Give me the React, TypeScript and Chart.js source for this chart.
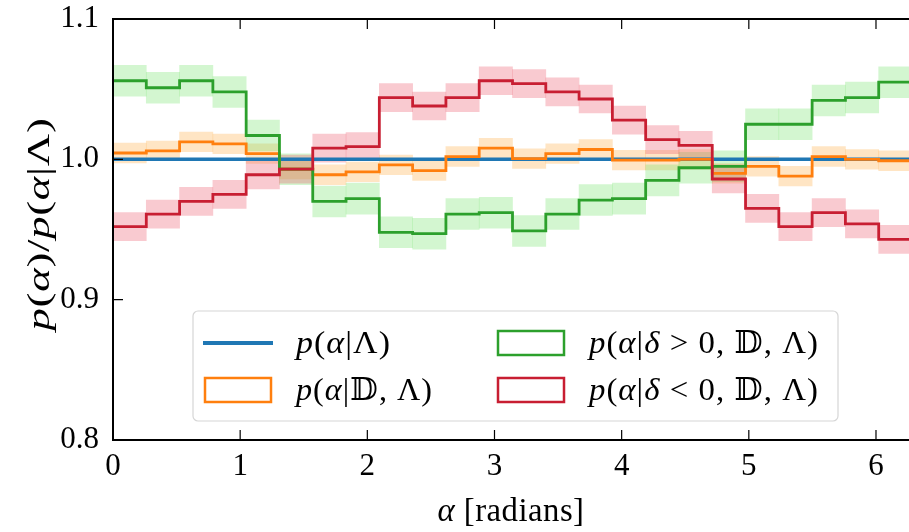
import React, { useEffect, useRef } from "react";
import { Chart, registerables } from "chart.js";

Chart.register(...registerables);

const TWO_PI = 2 * Math.PI;
const NBINS = 24;

// Ratio values per bin (alpha bins over [0, 2π])
const allRatio: number[] = [1.0, 1.0];
const dRatio: number[] = [
  1.0045, 1.006, 1.0125, 1.011, 1.004, 0.993, 0.989, 0.991, 0.996, 0.992, 1.002, 1.008,
  1.0005, 1.004, 1.007, 0.9995, 0.9995, 1.0, 0.99, 0.995, 0.988, 1.002, 1.0, 0.999,
];
const posRatio: number[] = [
  1.056, 1.051, 1.056, 1.048, 1.017, 0.993, 0.97, 0.972, 0.948, 0.947, 0.961, 0.962,
  0.949, 0.961, 0.971, 0.972, 0.985, 0.994, 0.995, 1.025, 1.025, 1.042, 1.044, 1.055,
];
const negRatio: number[] = [
  0.952, 0.961, 0.97, 0.975, 0.989, 0.993, 1.008, 1.009, 1.044, 1.038, 1.044, 1.056,
  1.054, 1.048, 1.043, 1.028, 1.014, 1.01, 0.986, 0.965, 0.952, 0.962, 0.954, 0.943,
];
// half-widths of the shaded uncertainty bands
const dErr = 0.007;
const posErr = 0.011;
const negErr = 0.01;

const xTicks: number[] = [0, 1, 2, 3, 4, 5, 6];
const yTicks: number[] = [0.8, 0.9, 1.0, 1.1];

const legendLabels: string[][][] = [
  [["p", "i"], ["(", "u"], ["α", "i"], ["|Λ)", "u"]],
  [["p", "i"], ["(", "u"], ["α", "i"], ["|", "u"], ["δ", "i"], [" > 0, 𝔻, Λ)", "u"]],
  [["p", "i"], ["(", "u"], ["α", "i"], ["|𝔻, Λ)", "u"]],
  [["p", "i"], ["(", "u"], ["α", "i"], ["|", "u"], ["δ", "i"], [" < 0, 𝔻, Λ)", "u"]],
];
const yTitle: string[][] = [
  ["p", "i"], ["(", "u"], ["α", "i"], [")/", "u"], ["p", "i"], ["(", "u"], ["α", "i"], ["|Λ)", "u"],
];
const xTitle: string[][] = [["α", "i"], [" [radians]", "u"]];

const FAMILY = "'Liberation Serif', 'DejaVu Serif', 'DejaVu Sans', serif";
const BLUE = "#1f77b4";
const ORANGE = "#ff7f0e";
const GREEN = "#2ca02c";
const RED = "#c81e32";

const binW = TWO_PI / NBINS;
const stepData = (vals: number[]) => {
  const pts = vals.map((v, i) => ({ x: i * binW, y: v }));
  pts.push({ x: TWO_PI, y: vals[vals.length - 1] });
  return pts;
};
const bandData = (vals: number[], e: number) =>
  vals.map((v, i) => ({ x: (i + 0.5) * binW, y: [v - e, v + e] }));

function drawMath(
  ctx: CanvasRenderingContext2D,
  segs: string[][],
  x: number,
  y: number,
  size: number,
  align: "left" | "center",
  spacing: number,
  targetWidth?: number
) {
  const fontOf = (s: string) => `${s === "i" ? "italic " : ""}${size}px ${FAMILY}`;
  (ctx as any).letterSpacing = `${spacing}px`;
  let total = 0;
  for (const [t, s] of segs) {
    ctx.font = fontOf(s);
    total += ctx.measureText(t).width;
  }
  const sx = targetWidth ? targetWidth / total : 1;
  ctx.save();
  ctx.translate(x, y);
  ctx.scale(sx, 1);
  let cx = align === "center" ? -total / 2 : 0;
  ctx.textBaseline = "middle";
  ctx.textAlign = "left";
  for (const [t, s] of segs) {
    ctx.font = fontOf(s);
    ctx.fillText(t, cx, 0);
    cx += ctx.measureText(t).width;
  }
  ctx.restore();
  (ctx as any).letterSpacing = "0px";
}

const framePlugin = {
  id: "frame",
  afterDatasetsDraw(chart: any) {
    const { ctx, chartArea: a, scales } = chart;
    ctx.save();
    ctx.strokeStyle = "#000";
    ctx.lineWidth = 1.2;
    const tl = 10;
    ctx.beginPath();
    for (const v of xTicks) {
      const px = scales.x.getPixelForValue(v);
      ctx.moveTo(px, a.bottom);
      ctx.lineTo(px, a.bottom - tl);
      ctx.moveTo(px, a.top);
      ctx.lineTo(px, a.top + tl);
    }
    for (const v of yTicks) {
      const py = scales.y.getPixelForValue(v);
      ctx.moveTo(a.left, py);
      ctx.lineTo(a.left + tl, py);
    }
    ctx.stroke();
    ctx.lineWidth = 2;
    ctx.strokeRect(a.left, a.top, a.right - a.left, a.bottom - a.top);
    ctx.restore();
  },
  afterDraw(chart: any) {
    const { ctx } = chart;
    ctx.save();
    ctx.fillStyle = "#000";
    // axis titles
    drawMath(ctx, xTitle, 511, 512, 34, "center", 0.5, 147);
    ctx.save();
    ctx.translate(41, 224);
    ctx.rotate(-Math.PI / 2);
    drawMath(ctx, yTitle, 0, 0, 32, "center", 0.5, 213);
    ctx.restore();

    // legend
    const bx = 193, by = 311, bw = 645, bh = 110, r = 5;
    ctx.beginPath();
    ctx.moveTo(bx + r, by);
    ctx.arcTo(bx + bw, by, bx + bw, by + bh, r);
    ctx.arcTo(bx + bw, by + bh, bx, by + bh, r);
    ctx.arcTo(bx, by + bh, bx, by, r);
    ctx.arcTo(bx, by, bx + bw, by, r);
    ctx.closePath();
    ctx.fillStyle = "rgba(255,255,255,0.85)";
    ctx.fill();
    ctx.strokeStyle = "#d6d6d6";
    ctx.lineWidth = 1.2;
    ctx.stroke();

    const cols = [205, 498];
    const rows = [343, 390];
    const symbolColors = [BLUE, GREEN, ORANGE, RED];
    const widths = [95, 230, 137, 230];
    for (let k = 0; k < 4; k++) {
      const col = cols[k % 2];
      const row = rows[Math.floor(k / 2)];
      if (k === 0) {
        ctx.strokeStyle = BLUE;
        ctx.lineWidth = 4;
        ctx.beginPath();
        ctx.moveTo(col - 2, row);
        ctx.lineTo(col + 68, row);
        ctx.stroke();
      } else {
        ctx.fillStyle = "#fff";
        ctx.fillRect(col, row - 12, 66, 24);
        ctx.strokeStyle = symbolColors[k];
        ctx.lineWidth = 2.5;
        ctx.strokeRect(col, row - 12, 66, 24);
      }
      ctx.fillStyle = "#000";
      drawMath(ctx, legendLabels[k], col + 91, row + 2, 32, "left", 1, widths[k]);
    }
    ctx.restore();
  },
};

export default function App() {
  const ref = useRef<HTMLCanvasElement | null>(null);
  useEffect(() => {
    const canvas = ref.current;
    if (!canvas) return;
    const lineDs = (label: string, vals: number[], color: string, width: number, order: number) => ({
      type: "line" as const,
      label,
      data: stepData(vals),
      borderColor: color,
      borderWidth: width,
      stepped: "before" as const,
      pointRadius: 0,
      fill: false,
      order,
    });
    const bandDs = (label: string, vals: number[], e: number, color: string, order: number) => ({
      type: "bar" as const,
      label,
      data: bandData(vals, e),
      backgroundColor: color,
      borderWidth: 0,
      grouped: false,
      barPercentage: 1,
      categoryPercentage: 1,
      order,
    });
    const chart = new Chart(canvas, {
      type: "line",
      data: {
        datasets: [
          lineDs("red", negRatio, RED, 2.8, 0),
          lineDs("green", posRatio, GREEN, 2.8, 1),
          lineDs("orange", dRatio, ORANGE, 2.8, 2),
          {
            type: "line" as const,
            label: "all",
            data: [
              { x: 0, y: allRatio[0] },
              { x: TWO_PI, y: allRatio[1] },
            ],
            borderColor: BLUE,
            borderWidth: 3.5,
            pointRadius: 0,
            fill: false,
            order: 3,
          },
          bandDs("redBand", negRatio, negErr, "rgba(235, 90, 110, 0.32)", 10),
          bandDs("greenBand", posRatio, posErr, "rgba(110, 225, 100, 0.3)", 11),
          bandDs("orangeBand", dRatio, dErr, "rgba(255, 170, 60, 0.3)", 12),
        ] as any,
      },
      options: {
        animation: false,
        responsive: false,
        devicePixelRatio: 1,
        layout: { padding: { left: 0, top: 19, right: 4, bottom: 0 } },
        plugins: { legend: { display: false }, tooltip: { enabled: false } },
        scales: {
          x: {
            type: "linear",
            min: 0,
            max: TWO_PI,
            offset: false,
            grid: { display: false, drawTicks: false },
            border: { display: false },
            ticks: {
              padding: 8,
              color: "#000",
              font: { family: FAMILY, size: 31 },
              maxRotation: 0,
              callback: (v: any) => String(v),
            },
            afterBuildTicks: (s: any) => {
              s.ticks = xTicks.map((v) => ({ value: v }));
            },
            afterFit: (s: any) => {
              s.height = 92;
              s.paddingLeft = 0;
              s.paddingRight = 0;
            },
          },
          y: {
            type: "linear",
            min: 0.8,
            max: 1.1,
            grid: { display: false, drawTicks: false },
            border: { display: false },
            ticks: {
              padding: 14,
              color: "#000",
              font: { family: FAMILY, size: 31 },
              callback: (v: any) => Number(v).toFixed(1),
            },
            afterBuildTicks: (s: any) => {
              s.ticks = yTicks.map((v) => ({ value: v }));
            },
            afterFit: (s: any) => {
              s.width = 113;
              s.paddingTop = 0;
              s.paddingBottom = 0;
            },
          },
        },
      } as any,
      plugins: [framePlugin],
    });
    return () => chart.destroy();
  }, []);

  return (
    <div
      style={{
        position: "fixed",
        left: 0,
        top: 0,
        width: 909,
        height: 532,
        overflow: "hidden",
        background: "#fff",
      }}
    >
      <canvas ref={ref} width={916} height={532} style={{ display: "block", width: 916, height: 532 }} />
    </div>
  );
}
